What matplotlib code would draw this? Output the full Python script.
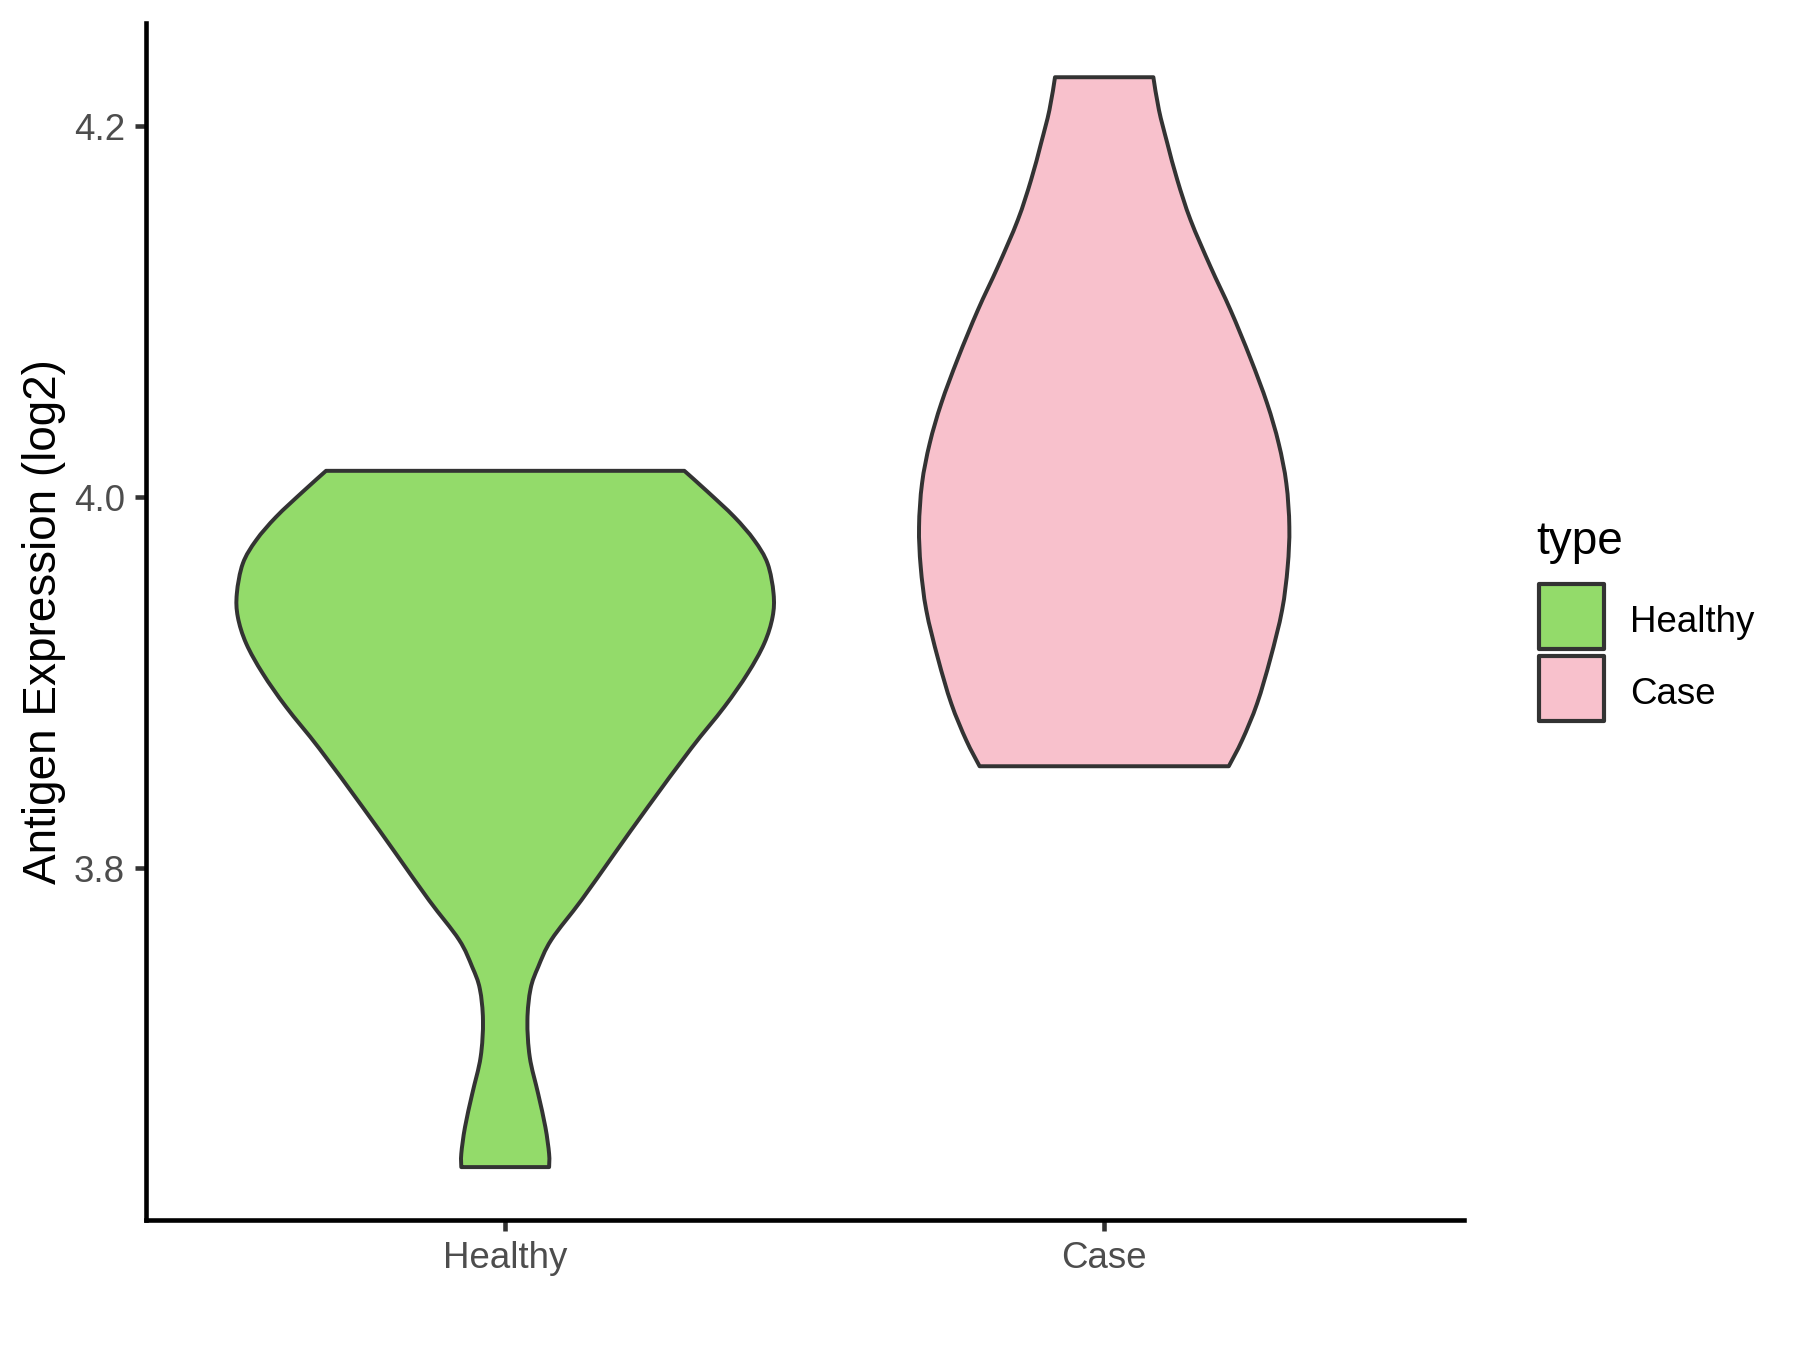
import numpy as np
import matplotlib
matplotlib.use("Agg")
import matplotlib.pyplot as plt
from matplotlib.patches import Rectangle, PathPatch
from matplotlib.path import Path

plt.rcParams['font.family'] = ['Liberation Sans', 'DejaVu Sans']

categories = ["Healthy", "Case"]
colors = ["#93DB6A", "#F8C1CC"]

# violin outline profiles: y level -> half width (x units)
healthy_y = [4.01422, 4.00290, 3.98941, 3.97684, 3.96428, 3.94809, 3.93547, 3.92112,
             3.90494, 3.88692, 3.86449, 3.83299, 3.80785, 3.78266, 3.76140, 3.74668,
             3.73500, 3.71793, 3.69814, 3.67838, 3.66038, 3.64602, 3.63882]
healthy_w = [0.2991, 0.3381, 0.3824, 0.4157, 0.4380, 0.4480, 0.4464, 0.4324,
             0.4047, 0.3658, 0.3103, 0.2382, 0.1825, 0.1271, 0.0771, 0.0550,
             0.0424, 0.0371, 0.0410, 0.0550, 0.0671, 0.0733, 0.0733]
case_y = [4.22643, 4.20878, 4.19083, 4.17103, 4.14945, 4.12427, 4.10090, 4.07485,
          4.05057, 4.02900, 4.00743, 3.98402, 3.96244, 3.93909, 3.91303, 3.88876,
          3.86896, 3.85494]
case_w = [0.0821, 0.0914, 0.1054, 0.1221, 0.1442, 0.1775, 0.2109, 0.2442,
          0.2720, 0.2913, 0.3041, 0.3091, 0.3063, 0.2970, 0.2775, 0.2553,
          0.2303, 0.2080]

yticks = [3.8, 4.0, 4.2]
ytick_labels = ["3.8", "4.0", "4.2"]


def smooth_segments(pts):
    """Catmull-Rom through pts, returned as cubic Bezier vertices (without the first point)."""
    pts = np.asarray(pts, dtype=float)
    n = len(pts)
    verts = []
    for i in range(n - 1):
        p0 = pts[i - 1] if i > 0 else pts[i]
        p1 = pts[i]
        p2 = pts[i + 1]
        p3 = pts[i + 2] if i + 2 < n else pts[i + 1]
        c1 = p1 + (p2 - p0) / 6.0
        c2 = p2 - (p3 - p1) / 6.0
        verts.extend([c1, c2, p2])
    return verts


fig = plt.figure(figsize=(6, 4.5), dpi=300)
ax = fig.add_axes([0.081, 0.0963, 0.7321, 0.8867])

profiles = [(healthy_y, healthy_w), (case_y, case_w)]
for i, (yy, ww) in enumerate(profiles):
    pos = i + 1
    yy = np.asarray(yy)
    ww = np.asarray(ww)
    left = np.column_stack([pos - ww, yy])            # top -> bottom
    right = np.column_stack([pos + ww, yy])[::-1]     # bottom -> top
    verts = [left[0]]
    codes = [Path.MOVETO]
    seg = smooth_segments(left)
    verts += seg
    codes += [Path.CURVE4] * len(seg)
    verts.append(right[0])
    codes.append(Path.LINETO)
    seg = smooth_segments(right)
    verts += seg
    codes += [Path.CURVE4] * len(seg)
    verts.append(left[0])
    codes.append(Path.CLOSEPOLY)
    patch = PathPatch(Path(np.array(verts), codes), facecolor=colors[i],
                      edgecolor="#333333", linewidth=0.95, joinstyle="round", zorder=2)
    ax.add_patch(patch)

ax.set_xlim(0.4, 2.6)
ax.set_ylim(3.6103, 4.2557)
ax.set_xticks([1, 2])
ax.set_xticklabels(categories)
ax.set_yticks(yticks)
ax.set_yticklabels(ytick_labels)
for s in ["top", "right"]:
    ax.spines[s].set_visible(False)
for s in ["left", "bottom"]:
    ax.spines[s].set_linewidth(1.1)
    ax.spines[s].set_color("black")
ax.tick_params(axis="both", length=2.75, width=1.1, color="#333333",
               labelsize=8.8, labelcolor="#4D4D4D", pad=2.2)
ax.set_ylabel("Antigen Expression (log2)", fontsize=11, color="black", labelpad=2.0)

# legend
W, H = 1800.0, 1350.0
fig.text(1536 / W, 1 - 542 / H, "type", fontsize=11, ha="left", va="center")
key_tops = [584, 656]
labels = ["Healthy", "Case"]
for k in range(2):
    top = key_tops[k]
    fig.patches.append(Rectangle((1539 / W, 1 - (top + 65) / H), 65 / W, 65 / H,
                                 transform=fig.transFigure, facecolor=colors[k],
                                 edgecolor="#333333", linewidth=1.0, joinstyle="round"))
    fig.text(1630 / W, 1 - (top + 39) / H, labels[k], fontsize=8.8, ha="left", va="center")

fig.savefig("out.png", dpi=300)
